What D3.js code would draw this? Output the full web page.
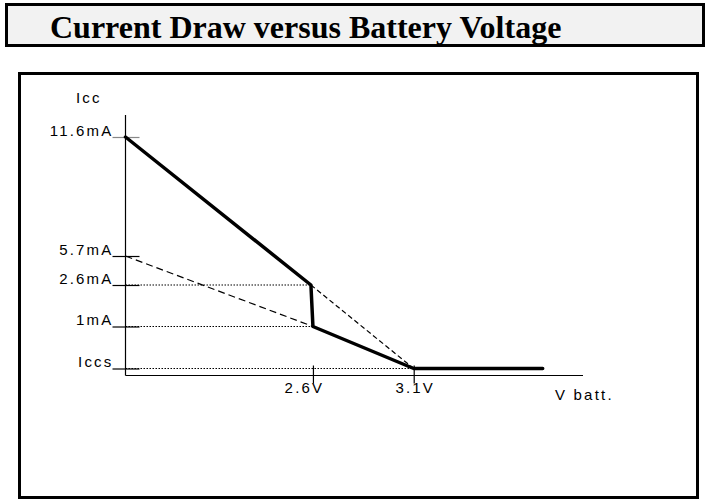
<!DOCTYPE html>
<html>
<head>
<meta charset="utf-8">
<script src="https://cdn.jsdelivr.net/npm/d3@7"></script>
<style>
  html, body { margin: 0; padding: 0; background: #fff; }
  svg { display: block; }
  .lbl { font-family: Arial, "Liberation Sans", sans-serif; font-size: 15px; letter-spacing: 2.2px; fill: #000; }
</style>
</head>
<body>
<div id="chart"></div>
<script>
// ---- data ----
const titleText = "Current Draw versus Battery Voltage";
const yAxisTitle = "Icc";
const xAxisTitle = "V batt.";

const voltageTicks = [2.6, 3.1];
const voltageTickLabels = ["2.6V", "3.1V"];

const currentTicks = [11.6, 5.7, 2.6, 1, 0];
const currentTickLabels = ["11.6mA", "5.7mA", "2.6mA", "1mA", "Iccs"];

// axis extents (V, mA)
const voltageAxisRange = [1.67, 3.94];
const currentAxisTop = 12.7;
const currentAxisBottom = -0.15;

// measured current-draw curve (solid)
const curveVoltage = [1.67, 2.59, 2.6, 3.1, 3.74];
const curveCurrent = [11.6, 2.6, 1, 0, 0];

// extrapolation lines (dashed)
const upperExtVoltage = [2.59, 3.1];
const upperExtCurrent = [2.6, 0];
const lowerExtVoltage = [1.67, 2.6];
const lowerExtCurrent = [5.7, 1];

// dotted guide lines: current level and voltage where it meets the curve
const guideCurrent = [2.6, 1, 0];
const guideVoltage = [2.59, 2.6, 3.1];

// ---- layout ----
const W = 706, H = 502;
const FONT = "Arial, 'Liberation Sans', sans-serif";
const svg = d3.select("#chart").append("svg").attr("width", W).attr("height", H);

// title box
svg.append("rect").attr("x", 6.5).attr("y", 4.5).attr("width", 697).attr("height", 41)
  .attr("fill", "#f2f2f2").attr("stroke", "#000").attr("stroke-width", 3);
svg.append("text").attr("x", 50).attr("y", 38)
  .attr("font-family", "'Times New Roman', 'Liberation Serif', serif")
  .attr("font-weight", "bold").attr("font-size", 32).attr("fill", "#000")
  .text(titleText);

// chart frame
svg.append("rect").attr("x", 19.5).attr("y", 73.5).attr("width", 678).attr("height", 424)
  .attr("fill", "#fff").attr("stroke", "#000").attr("stroke-width", 3);

// scales
const x = d3.scaleLinear().domain(voltageAxisRange).range([125.5, 583]);
const y = d3.scaleLinear()
  .domain([currentAxisBottom, 0, 1, 2.6, 5.7, 11.6, currentAxisTop])
  .range([375.5, 368.5, 326.5, 285, 256, 137, 115]);

const line = d3.line().x(d => x(d[0])).y(d => y(d[1]));
const zip = (a, b) => a.map((v, i) => [v, b[i]]);

// dotted guides
guideCurrent.forEach((c, i) => {
  svg.append("path")
    .attr("d", line([[voltageAxisRange[0], c], [guideVoltage[i], c]]))
    .attr("stroke", "#000").attr("stroke-width", 1.2).attr("fill", "none")
    .attr("stroke-dasharray", "1.5,1.5");
});

// axes lines
svg.append("line").attr("x1", x(voltageAxisRange[0])).attr("x2", x(voltageAxisRange[0]))
  .attr("y1", y(currentAxisTop)).attr("y2", y(currentAxisBottom))
  .attr("stroke", "#000").attr("stroke-width", 1.2);
svg.append("line").attr("x1", x(voltageAxisRange[0])).attr("x2", x(voltageAxisRange[1]))
  .attr("y1", y(currentAxisBottom)).attr("y2", y(currentAxisBottom))
  .attr("stroke", "#000").attr("stroke-width", 1.2);

// y axis ticks + labels
const yAxis = d3.axisLeft(y).tickValues(currentTicks)
  .tickFormat((d, i) => currentTickLabels[i]).tickSize(13).tickPadding(1);
const gy = svg.append("g").attr("transform", `translate(${x(voltageAxisRange[0])},0)`).call(yAxis);
gy.select(".domain").remove();
gy.selectAll(".tick line").attr("x1", 14).attr("x2", -13)
  .attr("stroke", (d, i) => i === 0 ? "#888" : "#000").attr("stroke-width", 1.2);
gy.selectAll(".tick text").attr("class", "lbl").attr("dy", null)
  .attr("y", -2).attr("x", -12).style("font-size", "15px").style("font-family", FONT);

// x axis ticks + labels
const xAxis = d3.axisBottom(x).tickValues(voltageTicks)
  .tickFormat((d, i) => voltageTickLabels[i]).tickSize(8);
const gx = svg.append("g").attr("transform", `translate(0,${y(currentAxisBottom)})`).call(xAxis);
gx.select(".domain").remove();
gx.selectAll(".tick line").attr("y1", -10).attr("y2", 8).attr("stroke", "#000").attr("stroke-width", 1.2);
gx.selectAll(".tick text").attr("class", "lbl").attr("dy", null).attr("y", 17)
  .attr("x", (d, i) => i === 0 ? -9 : 1)
  .style("font-size", "15px").style("font-family", FONT);

// axis titles
svg.append("text").attr("class", "lbl").attr("x", 76).attr("y", 103).text(yAxisTitle);
svg.append("text").attr("class", "lbl").attr("x", 555).attr("y", 400).text(xAxisTitle);

// dashed extrapolations
svg.append("path").attr("d", line(zip(lowerExtVoltage, lowerExtCurrent)))
  .attr("stroke", "#000").attr("stroke-width", 1.2).attr("fill", "none")
  .attr("stroke-dasharray", "7,4");
svg.append("path").attr("d", line(zip(upperExtVoltage, upperExtCurrent)))
  .attr("stroke", "#000").attr("stroke-width", 1.2).attr("fill", "none")
  .attr("stroke-dasharray", "5,3");

// solid curve
svg.append("path").attr("d", line(zip(curveVoltage, curveCurrent)))
  .attr("stroke", "#000").attr("stroke-width", 3.5).attr("fill", "none")
  .attr("stroke-linejoin", "round").attr("stroke-linecap", "round");
</script>
</body>
</html>
